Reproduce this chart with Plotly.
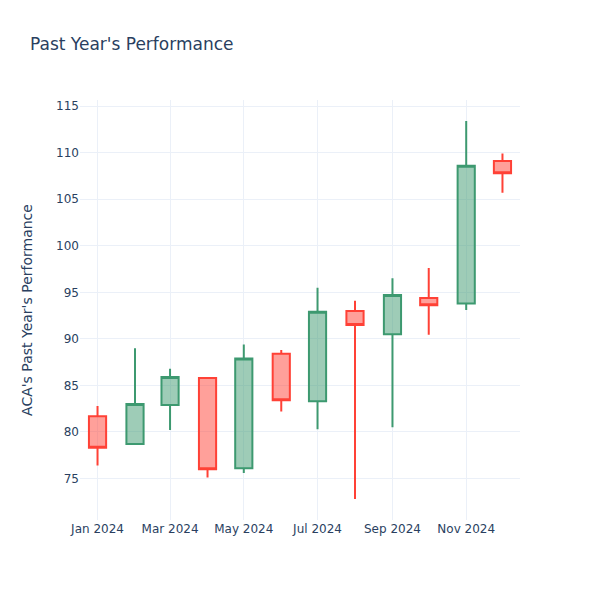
import plotly.graph_objects as go

dates = ["2024-01-01", "2024-02-01", "2024-03-01", "2024-04-01", "2024-05-01", "2024-06-01",
         "2024-07-01", "2024-08-01", "2024-09-01", "2024-10-01", "2024-11-01", "2024-12-01"]
open_ = [81.7, 78.7, 82.9, 85.8, 76.1, 88.4, 83.3, 93.0, 90.5, 94.4, 93.8, 109.1]
high = [82.8, 89.0, 86.8, 85.9, 89.4, 88.8, 95.5, 94.1, 96.5, 97.6, 113.4, 109.9]
low = [76.4, 78.6, 80.2, 75.1, 75.6, 82.2, 80.3, 72.8, 80.5, 90.45, 93.1, 105.7]
close = [78.3, 83.0, 85.9, 76.0, 87.9, 83.4, 92.9, 91.5, 94.7, 93.6, 108.6, 107.8]

fig = go.Figure(go.Candlestick(x=dates, open=open_, high=high, low=low, close=close))
fig.update_layout(
    template="plotly_white",
    font_family="DejaVu Sans",
    title=dict(text="Past Year's Performance", x=22 / 592, y=1 - 36 / 592,
               xanchor="left", yanchor="middle"),
    yaxis_title=dict(text="ACA's Past Year's Performance", standoff=20),
    xaxis_rangeslider_visible=False,
    width=592, height=592,
    margin=dict(l=72, r=80, t=92, b=80),
)
fig.write_html("out.html")
